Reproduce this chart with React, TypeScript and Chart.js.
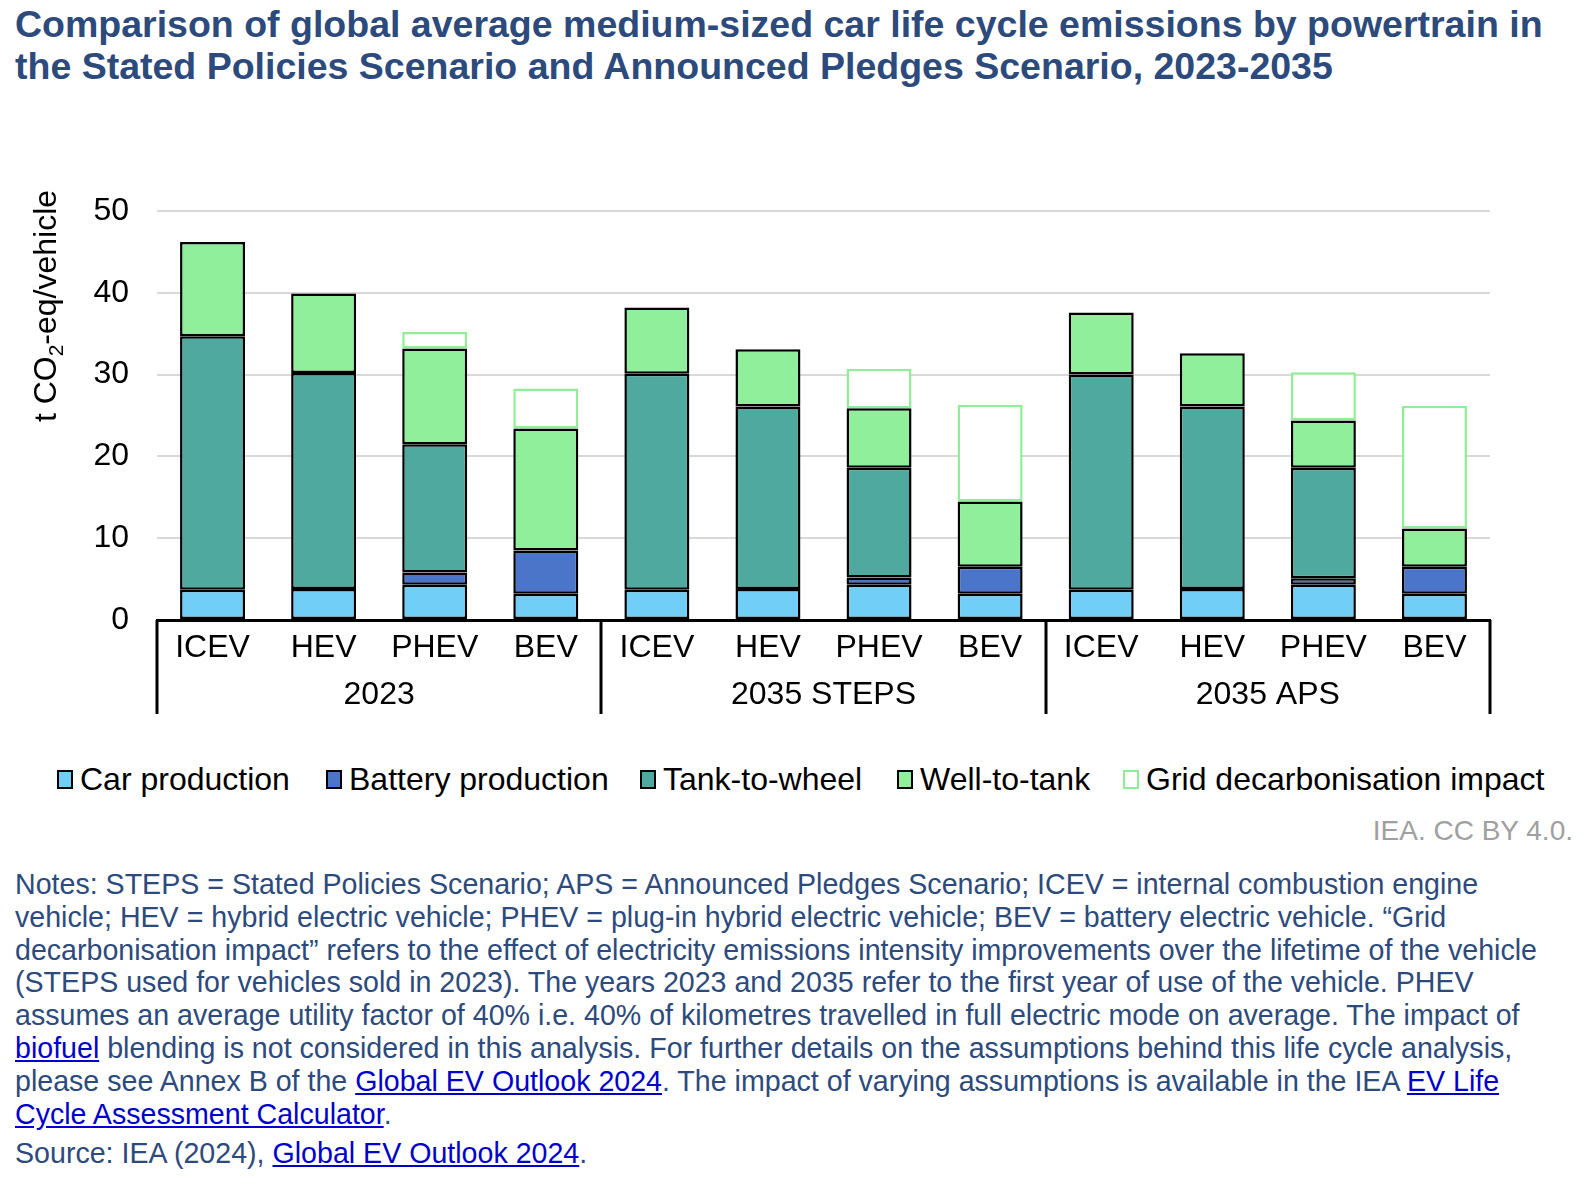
import React, { useEffect, useRef } from 'react';
import { Chart, registerables } from 'chart.js';

Chart.register(...registerables);

// ---- Data ----
const categories = ['ICEV', 'HEV', 'PHEV', 'BEV', 'ICEV', 'HEV', 'PHEV', 'BEV', 'ICEV', 'HEV', 'PHEV', 'BEV'];
const groups = ['2023', '2035 STEPS', '2035 APS'];
const seriesNames = ['Car production', 'Battery production', 'Tank-to-wheel', 'Well-to-tank', 'Grid decarbonisation impact'];
const carProduction = [3.7, 3.8, 4.3, 3.2, 3.7, 3.8, 4.3, 3.2, 3.7, 3.8, 4.3, 3.2];
const batteryProduction = [0, 0, 1.5, 5.3, 0, 0, 0.9, 3.3, 0, 0, 0.8, 3.3];
const tankToWheel = [31.0, 26.4, 15.7, 0, 26.4, 22.3, 13.4, 0, 26.3, 22.3, 13.5, 0];
const wellToTank = [11.5, 9.7, 11.7, 14.9, 8.1, 7.0, 7.3, 8.0, 7.6, 6.5, 5.8, 4.7];
const gridImpact = [0, 0, 2.0, 4.9, 0, 0, 4.8, 11.8, 0, 0, 5.9, 15.0];
const yMin = 0;
const yMax = 50;
const yStep = 10;

// ---- Styles ----
const FONT = "'Liberation Sans', Arial, Helvetica, sans-serif";
const fills = ['#71cef6', '#4b75c9', '#4fa99e', '#90ef9a', '#ffffff'];
const borders = ['#000000', '#000000', '#000000', '#000000', '#90ee96'];
const NAVY = '#2c4a7c';
const LINK = '#0000cc';

const groupAxisPlugin = {
  id: 'groupAxis',
  afterDraw(chart: any) {
    const { ctx, scales, chartArea } = chart;
    const x = scales.x;
    const axisY = chartArea.bottom;
    const ng = groups.length;
    ctx.save();
    ctx.strokeStyle = '#000';
    ctx.lineWidth = 3;
    for (let g = 0; g <= ng; g++) {
      const px = Math.round(x.left + ((x.right - x.left) * g) / ng);
      ctx.beginPath();
      ctx.moveTo(px, axisY);
      ctx.lineTo(px, 714);
      ctx.stroke();
    }
    ctx.fillStyle = '#000';
    ctx.font = `32px ${FONT}`;
    ctx.textAlign = 'center';
    ctx.textBaseline = 'middle';
    for (let g = 0; g < ng; g++) {
      const cx = x.left + ((x.right - x.left) * (g + 0.5)) / ng;
      ctx.fillText(groups[g], cx, 695);
    }
    // y axis title with subscript
    ctx.translate(45, 306);
    ctx.rotate(-Math.PI / 2);
    ctx.textAlign = 'left';
    ctx.textBaseline = 'alphabetic';
    const a = 't CO';
    const s = '2';
    const b = '-eq/vehicle';
    ctx.font = `32px ${FONT}`;
    const wa = ctx.measureText(a).width;
    const wb = ctx.measureText(b).width;
    ctx.font = `21px ${FONT}`;
    const ws = ctx.measureText(s).width;
    const total = wa + ws + wb;
    let cx = -total / 2;
    ctx.font = `32px ${FONT}`;
    ctx.fillText(a, cx, 11);
    cx += wa;
    ctx.font = `21px ${FONT}`;
    ctx.fillText(s, cx, 18);
    cx += ws;
    ctx.font = `32px ${FONT}`;
    ctx.fillText(b, cx, 11);
    ctx.restore();
  },
};

function BarChart() {
  const ref = useRef<HTMLCanvasElement | null>(null);
  useEffect(() => {
    if (!ref.current) return;
    const values = [carProduction, batteryProduction, tankToWheel, wellToTank, gridImpact];
    const chart = new Chart(ref.current, {
      type: 'bar',
      data: {
        labels: categories,
        datasets: seriesNames.map((name, i) => ({
          label: name,
          data: values[i],
          backgroundColor: fills[i],
          borderColor: borders[i],
          borderWidth: 2.5,
          borderSkipped: false,
          stack: 's',
          categoryPercentage: 1,
          barPercentage: 0.585,
        })),
      },
      options: {
        responsive: false,
        animation: false,
        devicePixelRatio: 1,
        layout: { padding: { left: 0, right: 94, top: 211, bottom: 0 } },
        plugins: {
          legend: { display: false },
          tooltip: { enabled: false },
          title: { display: false },
        },
        scales: {
          x: {
            stacked: true,
            offset: true,
            grid: { display: false, drawTicks: false },
            border: { display: true, color: '#000', width: 3 },
            ticks: {
              color: '#000',
              font: { family: FONT, size: 32 },
              padding: 9,
              maxRotation: 0,
              autoSkip: false,
            },
            afterFit(scale: any) {
              scale.height = 120;
            },
          },
          y: {
            stacked: true,
            min: yMin,
            max: yMax,
            ticks: {
              stepSize: yStep,
              color: '#000',
              font: { family: FONT, size: 32 },
              padding: 28,
            },
            grid: { color: '#d9d9d9', lineWidth: 2, drawTicks: false },
            border: { display: false },
            afterFit(scale: any) {
              scale.width = 157;
            },
          },
        },
      },
      plugins: [groupAxisPlugin],
    });
    return () => chart.destroy();
  }, []);
  return (
    <canvas
      ref={ref}
      width={1584}
      height={740}
      style={{ position: 'absolute', left: 0, top: 0, width: 1584, height: 740 }}
    />
  );
}

const legendBoxX = [57, 326, 640, 897, 1123];

function Legend() {
  return (
    <>
      {seriesNames.map((name, i) => (
        <div
          key={name}
          style={{
            position: 'absolute',
            left: legendBoxX[i],
            top: 759,
            height: 40,
            display: 'flex',
            alignItems: 'center',
            whiteSpace: 'nowrap',
            fontFamily: FONT,
            fontSize: 32,
            color: '#000',
          }}
        >
          <span
            style={{
              display: 'inline-block',
              width: 12,
              height: 15,
              background: fills[i],
              border: `2.5px solid ${borders[i]}`,
              marginRight: 7,
            }}
          />
          <span>{name}</span>
        </div>
      ))}
    </>
  );
}

const A = ({ children }: { children: React.ReactNode }) => (
  <span style={{ color: LINK, textDecoration: 'underline' }}>{children}</span>
);

function Notes() {
  const lines: React.ReactNode[] = [
    'Notes: STEPS = Stated Policies Scenario; APS = Announced Pledges Scenario; ICEV = internal combustion engine',
    'vehicle; HEV = hybrid electric vehicle; PHEV = plug-in hybrid electric vehicle; BEV = battery electric vehicle. \u201CGrid',
    'decarbonisation impact\u201D refers to the effect of electricity emissions intensity improvements over the lifetime of the vehicle',
    '(STEPS used for vehicles sold in 2023). The years 2023 and 2035 refer to the first year of use of the vehicle. PHEV',
    'assumes an average utility factor of 40% i.e. 40% of kilometres travelled in full electric mode on average. The impact of',
    <>
      <A>biofuel</A> blending is not considered in this analysis. For further details on the assumptions behind this life cycle analysis,
    </>,
    <>
      please see Annex B of the <A>Global EV Outlook 2024</A>. The impact of varying assumptions is available in the IEA <A>EV Life</A>
    </>,
    <>
      <A>Cycle Assessment Calculator</A>.
    </>,
  ];
  return (
    <div
      style={{
        position: 'absolute',
        left: 15,
        top: 868,
        fontFamily: FONT,
        fontSize: 28.6,
        lineHeight: '32.8px',
        color: NAVY,
        whiteSpace: 'nowrap',
      }}
    >
      {lines.map((l, i) => (
        <div key={i}>{l}</div>
      ))}
      <div style={{ marginTop: 7 }}>
        Source: IEA (2024), <A>Global EV Outlook 2024</A>.
      </div>
    </div>
  );
}

export default function App() {
  useEffect(() => {
    document.body.style.margin = '0';
  }, []);
  return (
    <div style={{ position: 'relative', width: 1584, height: 1188, background: '#fff', overflow: 'hidden' }}>
      <div
        style={{
          position: 'absolute',
          left: 15,
          top: 3,
          fontFamily: FONT,
          fontWeight: 'bold',
          fontSize: 37.5,
          lineHeight: '42.4px',
          color: NAVY,
          whiteSpace: 'nowrap',
        }}
      >
        <div>Comparison of global average medium-sized car life cycle emissions by powertrain in</div>
        <div>the Stated Policies Scenario and Announced Pledges Scenario, 2023-2035</div>
      </div>
      <BarChart />
      <Legend />
      <div
        style={{
          position: 'absolute',
          right: 11,
          top: 815,
          fontFamily: FONT,
          fontSize: 28,
          color: '#a0a0a0',
          whiteSpace: 'nowrap',
        }}
      >
        IEA. CC BY 4.0.
      </div>
      <Notes />
    </div>
  );
}
